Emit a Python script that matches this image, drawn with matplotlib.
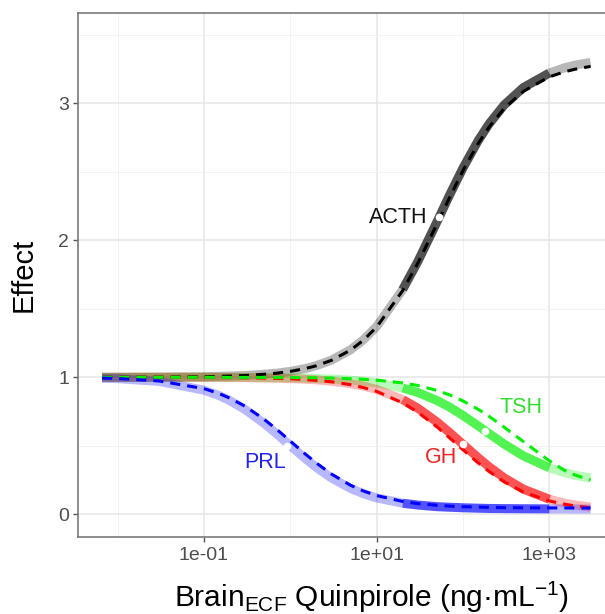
import numpy as np
import matplotlib
matplotlib.use('Agg')
import matplotlib.pyplot as plt

plt.rcParams['font.family'] = ['Liberation Sans', 'DejaVu Sans']
plt.rcParams['mathtext.fontset'] = 'custom'
plt.rcParams['mathtext.rm'] = 'Liberation Sans'
plt.rcParams['mathtext.it'] = 'Liberation Sans:italic'

# concentration grid (ng/mL)
conc = [0.0066, 0.01, 0.03, 0.1, 0.15, 0.2, 0.3, 0.5, 0.7, 1, 1.5, 2, 3, 5, 7, 10,
        20, 30, 50, 70, 100, 150, 200, 300, 500, 1000, 1500, 2000, 3000]

# thick band curves and dashed curves
acth_solid = [1.000, 1.000, 1.001, 1.004, 1.007, 1.009, 1.013, 1.022, 1.030, 1.043,
              1.064, 1.085, 1.125, 1.202, 1.273, 1.371, 1.641, 1.846, 2.136, 2.332,
              2.529, 2.729, 2.850, 2.989, 3.116, 3.222, 3.260, 3.280, 3.299]
acth_dashed = [1.000, 1.000, 1.001, 1.004, 1.007, 1.009, 1.013, 1.022, 1.030, 1.043,
               1.064, 1.084, 1.124, 1.199, 1.270, 1.367, 1.633, 1.834, 2.121, 2.314,
               2.510, 2.707, 2.826, 2.964, 3.088, 3.194, 3.231, 3.250, 3.270]
tsh_solid = [1.000, 1.000, 1.000, 1.000, 0.999, 0.999, 0.999, 0.998, 0.997, 0.996,
             0.994, 0.991, 0.987, 0.979, 0.971, 0.959, 0.922, 0.889, 0.830, 0.782,
             0.721, 0.645, 0.589, 0.512, 0.426, 0.339, 0.304, 0.284, 0.264]
tsh_dashed = [1.000, 1.000, 1.000, 1.000, 1.000, 0.999, 0.999, 0.999, 0.998, 0.998,
              0.997, 0.996, 0.994, 0.989, 0.985, 0.979, 0.959, 0.940, 0.904, 0.871,
              0.827, 0.766, 0.715, 0.635, 0.530, 0.390, 0.320, 0.285, 0.250]
gh_solid = [1.000, 1.000, 1.000, 0.999, 0.999, 0.998, 0.997, 0.995, 0.993, 0.990,
            0.986, 0.981, 0.971, 0.953, 0.936, 0.911, 0.837, 0.774, 0.673, 0.596,
            0.510, 0.412, 0.347, 0.265, 0.183, 0.109, 0.081, 0.067, 0.052]
gh_dashed = [1.000, 1.000, 1.000, 0.999, 0.998, 0.998, 0.997, 0.994, 0.992, 0.989,
             0.983, 0.977, 0.967, 0.946, 0.925, 0.897, 0.813, 0.744, 0.637, 0.557,
             0.470, 0.374, 0.312, 0.236, 0.162, 0.097, 0.073, 0.060, 0.047]
prl_solid = [0.993, 0.990, 0.970, 0.906, 0.866, 0.829, 0.764, 0.662, 0.585, 0.500,
             0.405, 0.342, 0.264, 0.188, 0.150, 0.119, 0.080, 0.067, 0.055, 0.051,
             0.047, 0.044, 0.042, 0.041, 0.040, 0.039, 0.039, 0.038, 0.038]
prl_dashed = [0.994, 0.991, 0.973, 0.917, 0.881, 0.847, 0.788, 0.692, 0.618, 0.534,
              0.438, 0.374, 0.293, 0.211, 0.170, 0.136, 0.093, 0.077, 0.065, 0.059,
              0.055, 0.052, 0.050, 0.048, 0.047, 0.046, 0.046, 0.045, 0.045]

# darker part of the band
band_lo, band_hi = 20, 1000

label_names = ['ACTH', 'TSH', 'GH', 'PRL']
label_x = [53, 180, 100, 0.92]
label_y = [2.17, 0.61, 0.51, 0.50]

line_colors = ['#000000', '#00ee00', '#ff0000', '#0000ff']
text_colors = ['#111111', '#33dd33', '#ee2222', '#2222ee']
# text offsets in pixels (dx, dy, ha)
text_offsets = [(-12, 0, 'right'), (14, 23, 'left'), (-6, -13, 'right'), (-1, -17, 'right')]

solids = [acth_solid, tsh_solid, gh_solid, prl_solid]
dashes = [acth_dashed, gh_dashed, tsh_dashed, prl_dashed]
dash_colors = [line_colors[0], line_colors[2], line_colors[1], line_colors[3]]

fig = plt.figure(figsize=(6.05, 6.14), dpi=100)
ax = fig.add_axes([0.1294, 0.1246, 0.8876, 0.8542])

x = np.array(conc)
lo = x <= band_lo
mid = (x >= band_lo) & (x <= band_hi)
hi = x >= band_hi
for y, c in zip(solids, line_colors):
    y = np.array(y)
    for m, a in [(lo, 0.28), (mid, 0.68), (hi, 0.28)]:
        ax.plot(x[m], y[m], color=c, alpha=a, lw=6.5, solid_capstyle='butt', zorder=2)

for y, c in zip(dashes, dash_colors):
    ax.plot(conc, y, color=c, lw=2.2, linestyle=(0, (3.3, 2.3)), zorder=3)

ax.plot(label_x, label_y, 'o', color='white', ms=5.5, mec='none', zorder=4)
for name, lx, ly, tc, (dx, dy, ha) in zip(label_names, label_x, label_y, text_colors, text_offsets):
    ax.annotate(name, (lx, ly), xytext=(dx, dy), textcoords='offset pixels',
                ha=ha, va='center', fontsize=15.5, color=tc, zorder=5)

ax.set_xscale('log')
ax.set_xticks([0.1, 10, 1000])
ax.set_xticklabels(['1e-01', '1e+01', '1e+03'])
ax.set_xticks([0.01, 1, 100], minor=True)
ax.set_xticklabels([], minor=True)
ax.set_yticks([0, 1, 2, 3])
ax.set_yticks([0.5, 1.5, 2.5, 3.5], minor=True)
ax.set_xlim(0.0035, 5800)
ax.set_ylim(-0.17, 3.66)

ax.grid(which='major', color='#e6e6e6', lw=1.1)
ax.grid(which='minor', color='#f0f0f0', lw=0.6)
ax.set_axisbelow(True)
for s in ax.spines.values():
    s.set_color('#7a7a7a')
    s.set_linewidth(1.2)
ax.tick_params(which='major', length=3.5, width=1, color='#555555',
               labelsize=14, labelcolor='#4d4d4d', pad=3)
ax.tick_params(which='minor', length=0)

ax.set_xlabel('Brain$_{\\mathrm{ECF}}$ Quinpirole (ng·mL$^{-1}$)', fontsize=21.5)
ax.set_ylabel('Effect', fontsize=21)
ax.xaxis.set_label_coords(0.547, -0.1134)
ax.xaxis.label.set_va('center')
ax.yaxis.set_label_coords(-0.101, 0.5)
ax.yaxis.label.set_va('center')

fig.savefig('out.png', dpi=100)
